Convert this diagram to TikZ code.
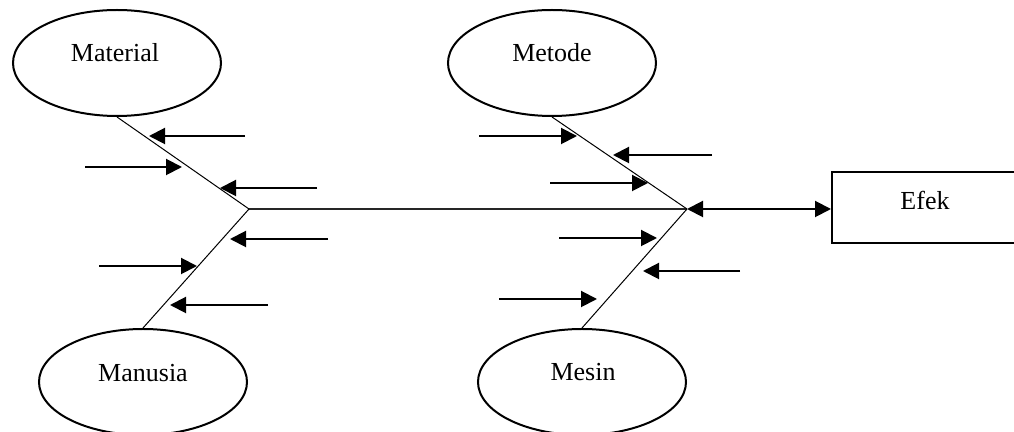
\documentclass[tikz,border=0pt]{standalone}
\usepackage{fontspec}
\setmainfont{Liberation Serif}
\usetikzlibrary{shapes.geometric,arrows.meta}
\begin{document}
\begin{tikzpicture}[x=0.5pt,y=-0.5pt,
  cause/.style={ellipse,draw,line width=1pt,minimum width=104pt,minimum height=53pt,inner sep=0pt},
  lbl/.style={font=\fontsize{13pt}{15pt}\selectfont,inner sep=0pt},
  bone/.style={line width=0.5pt},
  spine/.style={line width=0.6pt,black!85},
  feed/.style={line width=1pt,-{Triangle[length=8pt,width=8pt]}},
  both/.style={line width=1pt,{Triangle[length=8pt,width=8pt]}-{Triangle[length=8pt,width=8pt]}}]
\useasboundingbox (0,0) rectangle (1014,432);
\clip (0,0) rectangle (1014,432);

% cause categories
\node[cause] (material) at (117,63) {};
\node[lbl] (materialtxt) at (115,53) {Material};
\node[cause] (metode) at (552,63) {};
\node[lbl] (metodetxt) at (552,53) {Metode};
\node[cause] (manusia) at (143,382) {};
\node[lbl] (manusiatxt) at (143,373) {Manusia};
\node[cause] (mesin) at (582,382) {};
\node[lbl] (mesintxt) at (583,372) {Mesin};

% effect box
\node[draw,line width=1pt,minimum width=94pt,minimum height=35.5pt,inner sep=0pt,anchor=west] (efek) at (831,207.5) {};
\node[lbl] (efektxt) at (925,200) {Efek};

% joints of the backbone
\coordinate (jl) at (249,209);
\coordinate (jr) at (687,209);

% backbone and main bones
\draw[spine] (jl) -- (jr);
\draw[bone] (material.south) -- (jl);
\draw[bone] (manusia.north) -- (jl);
\draw[bone] (metode.south) -- (jr);
\draw[bone] (mesin.north) -- (jr);
\draw[both] (jr) -- (jr -| efek.west);

% sub-cause arrows: Material
\coordinate (a1s) at (245,136); \coordinate (a1e) at (149,136);
\coordinate (a2s) at (85,167);  \coordinate (a2e) at (182,167);
\coordinate (a3s) at (317,188); \coordinate (a3e) at (220,188);
\draw[feed] (a1s) -- (a1e);
\draw[feed] (a2s) -- (a2e);
\draw[feed] (a3s) -- (a3e);

% sub-cause arrows: Manusia
\coordinate (b1s) at (328,239); \coordinate (b1e) at (230,239);
\coordinate (b2s) at (99,266);  \coordinate (b2e) at (197,266);
\coordinate (b3s) at (268,305); \coordinate (b3e) at (170,305);
\draw[feed] (b1s) -- (b1e);
\draw[feed] (b2s) -- (b2e);
\draw[feed] (b3s) -- (b3e);

% sub-cause arrows: Metode
\coordinate (c1s) at (479,136); \coordinate (c1e) at (577,136);
\coordinate (c2s) at (712,155); \coordinate (c2e) at (613,155);
\coordinate (c3s) at (550,183); \coordinate (c3e) at (648,183);
\draw[feed] (c1s) -- (c1e);
\draw[feed] (c2s) -- (c2e);
\draw[feed] (c3s) -- (c3e);

% sub-cause arrows: Mesin
\coordinate (d1s) at (559,238); \coordinate (d1e) at (657,238);
\coordinate (d2s) at (740,271); \coordinate (d2e) at (643,271);
\coordinate (d3s) at (499,299); \coordinate (d3e) at (597,299);
\draw[feed] (d1s) -- (d1e);
\draw[feed] (d2s) -- (d2e);
\draw[feed] (d3s) -- (d3e);
\end{tikzpicture}
\end{document}
